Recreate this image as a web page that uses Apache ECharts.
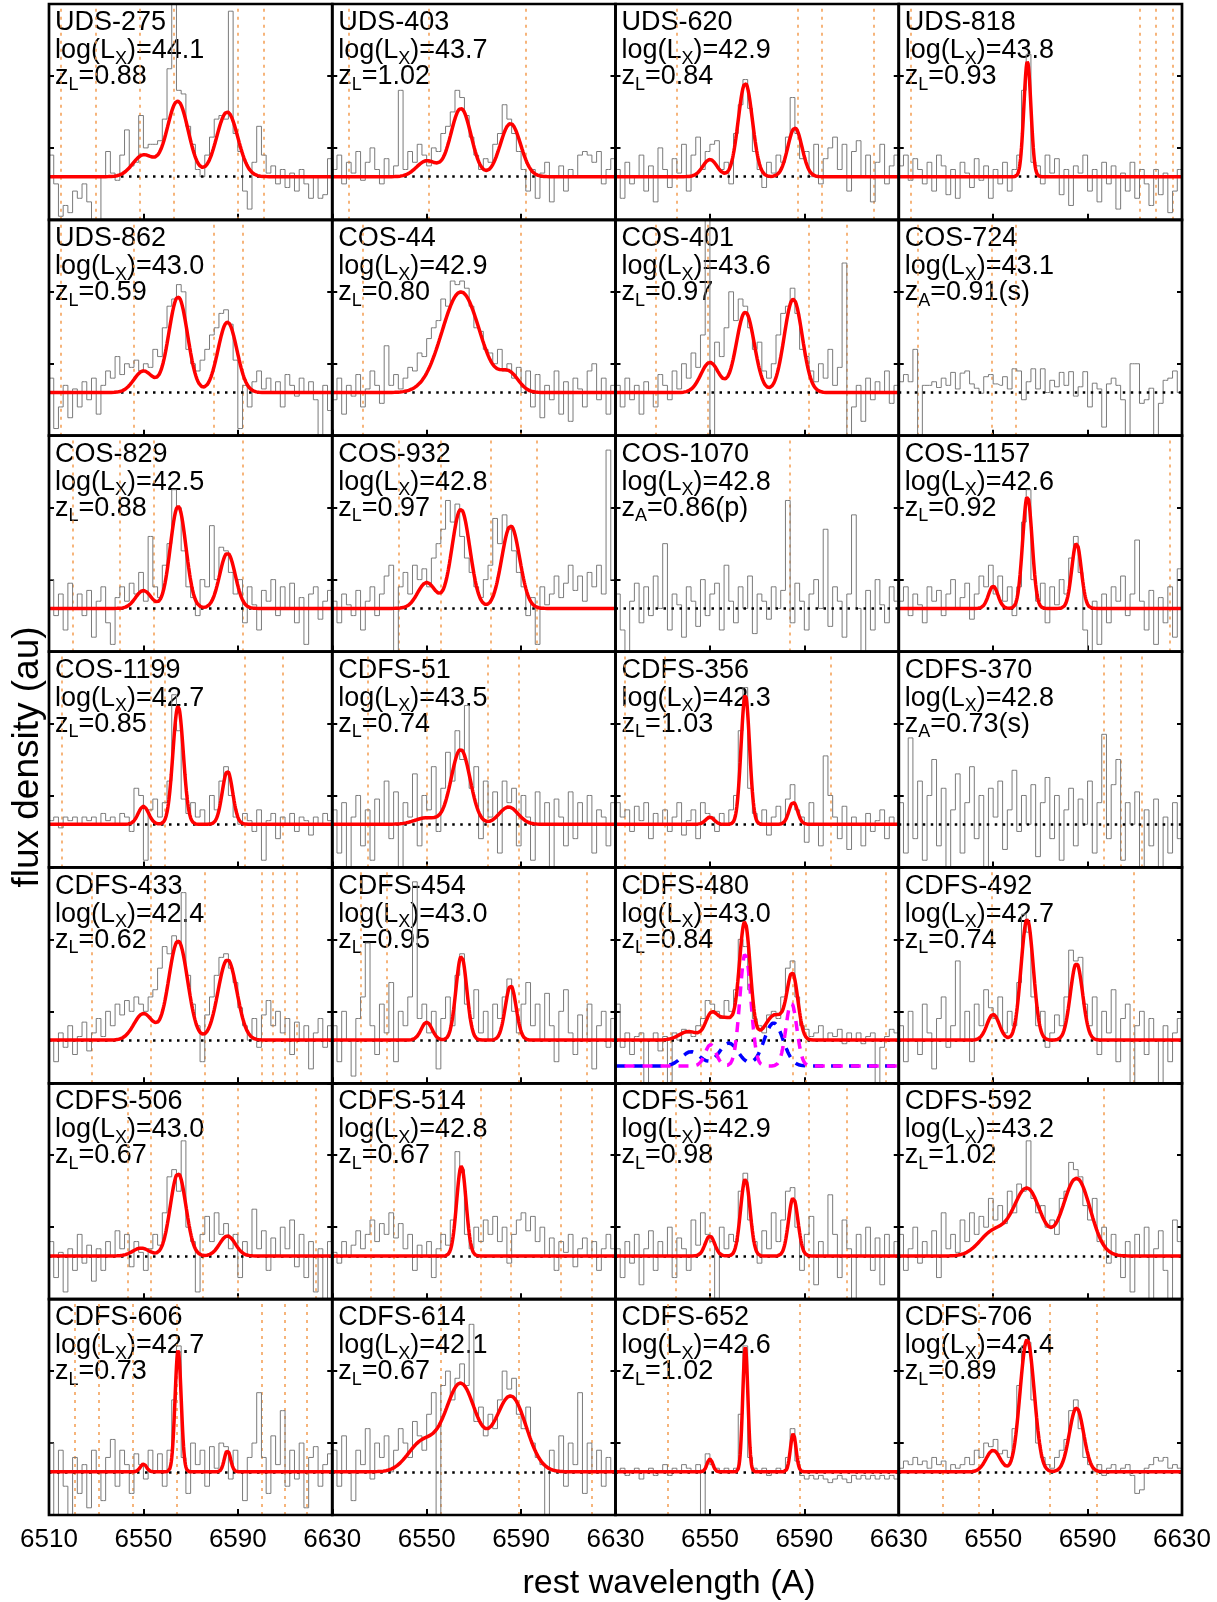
<!DOCTYPE html>
<html>
<head>
<meta charset="utf-8">
<script src="https://cdn.jsdelivr.net/npm/echarts@6/dist/echarts.min.js"></script>
<style>
  html, body { margin: 0; padding: 0; background: #ffffff; }
  #chart { width: 1217px; height: 1602px; }
</style>
</head>
<body>
<div id="chart"></div>
<script>
// Rest-frame wavelength window shown in every panel (Angstrom)
const LAMBDA_MIN = 6510;
const LAMBDA_MAX = 6630;
const xTickStep = 40;          // ticks at 6510, 6550, 6590, 6630
const binStart = 6511;         // centre of first spectral bin
const binWidth = 2;            // bin width (Angstrom)

// Panel labels, row by row
const sourceNames = [
  'UDS-275', 'UDS-403', 'UDS-620', 'UDS-818',
  'UDS-862', 'COS-44', 'COS-401', 'COS-724',
  'COS-829', 'COS-932', 'COS-1070', 'COS-1157',
  'COS-1199', 'CDFS-51', 'CDFS-356', 'CDFS-370',
  'CDFS-433', 'CDFS-454', 'CDFS-480', 'CDFS-492',
  'CDFS-506', 'CDFS-514', 'CDFS-561', 'CDFS-592',
  'CDFS-606', 'CDFS-614', 'CDFS-652', 'CDFS-706'
];
const logLx = [
  '44.1', '43.7', '42.9', '43.8',
  '43.0', '42.9', '43.6', '43.1',
  '42.5', '42.8', '42.8', '42.6',
  '42.7', '43.5', '42.3', '42.8',
  '42.4', '43.0', '43.0', '42.7',
  '43.0', '42.8', '42.9', '43.2',
  '42.7', '42.1', '42.6', '42.4'
];
// redshift type: L = from emission lines, A = archival
const zType = [
  'L', 'L', 'L', 'L',
  'L', 'L', 'L', 'A',
  'L', 'L', 'A', 'L',
  'L', 'L', 'L', 'A',
  'L', 'L', 'L', 'L',
  'L', 'L', 'L', 'L',
  'L', 'L', 'L', 'L'
];
const zValue = [
  '0.88', '1.02', '0.84', '0.93',
  '0.59', '0.80', '0.97', '0.91(s)',
  '0.88', '0.97', '0.86(p)', '0.92',
  '0.85', '0.74', '1.03', '0.73(s)',
  '0.62', '0.95', '0.84', '0.74',
  '0.67', '0.67', '0.98', '1.02',
  '0.73', '0.67', '1.02', '0.89'
];

// Observed spectra (arbitrary flux units, continuum subtracted), 2 A bins from 6511 A
const flux_UDS_275 = [0.3,-0.1,-0.55,-0.4,-0.5,-0.2,-0.3,-0.1,-0.35,-0.6, -0.6,0.0,0.35,0.05,-0.05,0.3,0.65,0.15,0.2,0.85, 0.4,0.45,0.45,0.5,0.8,1.5,2.6,1.2,1.15,0.7, 0.45,0.1,0.0,0.3,0.55,0.8,0.85,0.8,2.3,0.6, 0.35,-0.2,-0.45,0.2,0.7,0.3,0.05,0.15,-0.1,0.1, -0.15,0.05,-0.2,0.1,-0.1,-0.3,0.0,-0.3,-0.25,0.25];
const flux_UDS_403 = [0.1,0.3,-0.1,0.2,0.05,0.35,-0.05,0.2,0.4,0.1, -0.1,0.25,0.0,0.15,1.2,0.1,0.35,0.2,0.45,0.3, 0.15,0.4,0.35,0.6,0.7,0.9,1.2,1.1,0.85,0.55, 0.3,0.1,0.25,0.2,0.45,0.6,1.0,0.8,0.6,0.35, 0.1,-0.2,0.1,-0.3,0.05,0.2,-0.35,0.0,0.15,-0.2, 0.1,0.0,0.3,0.35,0.3,0.2,0.35,-0.1,0.1,0.25];
const flux_UDS_620 = [0.1,-0.3,0.2,-0.1,0.0,0.3,-0.2,0.15,-0.35,0.4, 0.1,-0.15,0.25,0.05,0.45,-0.2,0.3,0.55,0.1,0.35, 0.45,0.5,0.1,0.2,-0.1,0.6,1.0,1.35,0.95,0.35, 0.1,-0.15,0.2,0.05,0.3,0.2,0.55,1.1,0.6,0.25, 0.35,0.0,0.45,-0.1,0.25,0.4,0.55,0.1,0.45,-0.2, 0.35,0.5,0.0,0.3,-0.35,0.2,0.45,-0.1,0.15,0.3];
const flux_UDS_818 = [0.15,0.3,-0.05,0.25,0.1,-0.1,0.2,-0.2,0.3,0.15, -0.25,0.1,-0.3,0.2,0.05,-0.15,0.25,-0.05,0.15,-0.3, 0.1,-0.1,0.2,-0.2,0.1,0.3,1.2,1.7,0.2,0.15, -0.1,0.3,0.05,0.25,-0.25,0.1,-0.4,0.15,0.05,0.3, -0.2,0.1,-0.35,0.2,-0.1,0.15,-0.45,0.05,-0.2,0.2, -0.3,0.1,-0.1,-0.4,0.1,-0.25,0.05,-0.5,-0.2,0.1];
const flux_UDS_862 = [0.2,-0.5,-0.2,0.1,-0.35,0.05,-0.2,0.15,-0.1,0.2, -0.3,0.1,0.3,0.2,0.5,0.25,0.4,0.35,0.45,0.3, 0.4,0.35,0.6,0.5,0.9,1.2,1.3,1.5,1.4,0.6, 0.4,0.3,0.45,0.6,0.8,0.9,1.1,1.15,0.95,0.45, -0.5,0.1,-0.2,0.15,0.3,0.05,0.2,0.0,0.15,-0.2, 0.25,0.1,-0.05,0.2,0.0,0.15,-0.1,-0.6,0.1,-0.25];
const flux_COS_44 = [-0.1,0.2,-0.3,0.1,-0.05,0.25,-0.2,0.05,0.3,0.1, -0.15,0.65,0.1,0.25,0.05,0.2,0.35,0.3,0.55,0.5, 0.75,0.9,1.0,1.3,1.2,1.55,1.5,1.55,1.45,1.2, 0.9,0.85,0.6,0.55,0.4,0.6,0.3,0.4,0.2,0.35, 0.0,0.3,-0.2,0.25,-0.35,0.1,-0.1,0.3,-0.3,0.15, -0.4,0.2,0.05,-0.2,0.3,0.4,-0.1,0.2,-0.3,0.1];
const flux_COS_401 = [0.1,-0.2,0.2,-0.1,0.1,-0.3,0.15,0.0,-0.2,0.25, 0.1,-0.1,0.3,0.05,0.4,0.2,0.55,0.35,0.8,2.6, -0.6,0.7,0.5,0.9,1.4,1.0,1.3,1.2,0.9,0.6, 0.7,0.3,0.2,0.4,0.8,1.1,1.2,1.45,1.1,0.6, 0.5,0.3,0.15,0.4,0.2,0.6,0.1,0.35,1.8,-0.6, -0.2,0.1,-0.4,0.2,-0.1,0.15,0.0,0.3,-0.15,0.1];
const flux_COS_724 = [0.15,0.25,0.15,0.6,-0.6,0.1,0.1,0.15,0.07,0.2, 0.1,0.28,0.05,0.27,0.3,0.12,0.06,-0.01,0.22,0.25, 0.12,0.1,0.22,0.05,0.33,0.3,-0.1,0.15,0.33,0.05, 0.33,0.0,0.17,0.08,0.28,0.1,0.29,-0.05,0.08,0.29, -0.2,0.13,0.05,-0.48,0.12,0.2,0.1,-0.1,-0.6,0.4, 0.4,-0.15,-0.1,0.06,-0.6,-0.15,0.17,0.2,0.3,0.0];
const flux_COS_829 = [0.4,-0.1,0.2,-0.3,0.35,0.0,0.2,-0.1,0.25,-0.4, 0.1,0.3,-0.2,-0.5,0.15,0.3,0.1,0.35,0.2,0.5, 0.1,1.0,0.3,0.15,0.6,0.9,1.65,1.4,0.8,0.3, 0.15,-0.1,0.4,0.3,1.15,0.4,0.85,0.8,0.5,0.2, 0.4,-0.2,0.3,0.05,-0.3,0.25,0.1,0.4,-0.1,0.3, 0.0,0.35,-0.2,0.15,-0.5,0.2,0.3,-0.15,0.1,0.25];
const flux_COS_932 = [0.1,-0.2,0.2,0.05,-0.1,0.25,-0.3,0.1,0.3,-0.1, 0.2,0.45,0.6,-0.6,0.3,0.5,0.2,0.6,0.4,0.55, 0.3,0.7,0.9,1.1,1.5,1.2,1.45,1.0,0.7,0.5, 0.3,0.15,0.4,0.6,1.25,0.9,1.3,1.1,0.8,0.5, 0.3,-0.1,0.15,-0.5,0.3,0.05,0.2,0.45,0.15,0.35, 0.6,0.25,0.45,0.1,0.5,0.3,0.6,0.2,2.2,0.4];
const flux_COS_1070 = [0.2,-0.3,-0.6,0.1,0.35,-0.2,0.3,-0.1,0.45,0.0, 0.9,-0.3,0.2,0.05,-0.4,0.3,0.1,-0.25,0.4,-0.1, 0.2,0.35,-0.3,0.6,0.1,-0.2,0.3,0.0,0.45,-0.35, 0.2,0.1,-0.15,0.3,0.0,0.25,1.5,-0.2,0.35,0.1, -0.3,0.2,0.4,0.0,1.1,-0.25,0.3,0.1,-0.4,0.2, 1.3,0.0,-0.6,0.25,-0.3,0.4,0.05,-0.2,0.3,0.1];
const flux_COS_1157 = [0.1,0.3,-0.1,0.2,0.05,-0.2,0.3,0.1,0.25,-0.1, 0.2,0.4,0.0,0.15,0.35,-0.15,0.2,0.45,0.3,0.6, 0.2,0.45,0.1,0.3,-0.1,0.3,1.2,1.65,0.4,0.1, 0.35,-0.2,0.3,0.05,0.4,0.2,0.7,1.0,0.5,-0.3, -0.6,0.1,-0.5,0.2,-0.2,0.3,0.1,0.45,-0.1,0.2, 0.95,0.1,-0.3,0.25,-0.5,0.15,-0.2,0.3,-0.4,0.55];
const flux_COS_1199 = [0.05,0.1,-0.05,0.1,0.05,0.1,0.0,0.1,0.05,0.1, 0.0,0.15,0.05,0.1,0.0,0.15,0.1,-0.1,0.5,0.4, -0.5,0.2,0.35,0.1,0.3,0.6,1.8,1.3,0.35,0.15, 0.3,0.1,0.2,0.0,0.4,0.2,0.6,0.8,0.4,0.1, 0.0,0.15,0.05,-0.1,0.2,-0.5,0.05,0.15,-0.2,0.1, 0.0,0.15,-0.1,0.1,0.05,-0.15,0.1,0.0,0.15,0.05];
const flux_CDFS_51 = [0.2,-0.4,0.3,-0.6,0.1,0.4,-0.3,0.2,-0.5,0.35, 0.0,0.6,-0.2,0.45,-0.6,0.3,0.1,0.7,-0.3,0.4, 0.2,0.8,-0.1,0.5,1.0,0.6,1.3,0.9,1.65,0.5, 0.8,-0.2,0.6,0.1,0.45,-0.4,0.6,0.3,0.5,-0.3, 0.4,0.1,-0.5,0.45,0.0,0.3,-0.6,0.35,0.1,-0.3, 0.45,-0.2,0.3,0.0,0.4,-0.4,0.2,0.1,-0.3,0.3];
const flux_CDFS_356 = [0.3,0.1,0.2,-0.1,0.25,0.05,0.3,-0.2,0.15,0.0, 0.2,-0.1,0.1,0.3,-0.15,0.05,0.2,-0.2,0.3,0.15, 0.1,-0.1,0.15,0.0,0.2,0.4,1.3,1.9,0.5,0.15, 0.0,0.2,-0.15,0.1,0.25,0.0,0.35,0.55,0.2,0.1, -0.25,0.3,0.0,-0.3,0.95,0.4,0.1,-0.2,0.25,-0.35, 0.1,0.0,-0.3,0.15,-0.1,0.05,0.2,-0.2,0.1,0.0];
const flux_CDFS_370 = [0.3,-0.4,1.2,-0.2,0.6,-0.5,0.4,0.9,-0.3,0.5, -0.6,0.2,0.7,-0.4,0.3,0.8,-0.2,0.4,-0.6,0.5, 0.1,0.6,-0.35,0.2,0.75,-0.1,0.4,0.0,0.55,-0.45, 0.3,0.65,-0.2,0.4,-0.5,0.2,0.5,-0.3,0.35,0.0, 0.6,-0.4,0.3,1.25,-0.2,0.55,0.9,-0.5,0.3,0.0, 0.45,-0.6,0.2,-0.3,0.35,-0.6,0.1,-0.4,0.3,-0.2];
const flux_CDFS_433 = [0.0,-0.3,0.1,-0.1,0.2,-0.2,0.05,0.25,-0.15,0.1, 0.3,0.05,0.4,0.2,0.5,0.35,0.55,0.4,0.6,0.5, 0.4,0.6,0.7,1.0,1.3,1.2,1.45,1.35,2.05,0.9, 0.5,0.2,-0.3,0.35,0.6,0.9,1.15,1.2,1.0,0.8, 0.45,0.2,0.0,0.3,-0.1,0.35,0.55,0.2,0.4,0.1, 0.3,-0.2,0.25,0.0,0.2,-0.4,0.1,0.3,-0.1,0.2];
const flux_CDFS_454 = [0.2,-0.3,0.4,0.0,-0.5,0.3,0.6,1.35,0.2,-0.2, 0.5,0.1,0.8,-0.3,0.4,0.2,0.6,2.2,0.3,0.5, 0.1,0.4,-0.4,0.3,0.6,0.2,0.9,1.2,0.5,0.3, 0.7,0.1,0.4,0.0,0.5,0.3,0.6,0.85,0.4,0.1, 0.5,0.8,0.2,0.5,0.0,0.65,0.2,-0.3,0.4,0.7, 0.1,-0.2,0.35,0.0,0.5,-0.4,0.2,0.4,-0.1,0.3];
const flux_CDFS_480 = [0.5,-0.1,0.1,-0.2,0.05,0.1,-0.6,0.0,0.1,-0.15, 0.05,-0.6,0.1,0.0,0.15,0.1,0.05,0.2,0.3,0.55, 0.5,0.4,0.3,0.55,0.4,0.7,1.4,1.3,0.7,0.3, 0.2,0.1,0.35,0.4,0.3,0.6,1.0,1.1,0.6,0.2, 0.15,0.05,0.1,0.2,0.0,0.1,0.05,0.15,-0.05,0.1, 0.0,0.1,-0.05,0.05,0.1,-0.6,-0.1,0.05,0.15,0.1];
const flux_CDFS_492 = [0.2,-0.3,0.4,0.0,-0.2,0.5,0.1,-0.4,0.3,0.6, -0.1,0.2,1.1,0.0,0.4,-0.3,0.5,0.2,0.7,0.45, 0.3,0.6,0.1,0.4,0.2,0.8,1.75,1.5,0.6,0.2, 0.4,-0.1,0.1,0.35,0.2,0.6,1.25,1.1,1.15,0.5, 0.2,0.6,-0.2,0.4,0.1,0.7,-0.3,0.3,0.5,-0.6, 0.2,0.4,-0.2,0.3,0.0,-0.6,0.2,-0.3,0.1,0.3];
const flux_CDFS_506 = [0.2,-0.3,0.05,-0.5,0.1,-0.2,0.3,-0.1,0.15,-0.35, 0.1,-0.2,0.2,0.0,0.35,0.1,0.3,-0.15,0.2,0.05, -0.2,0.1,0.3,0.15,0.6,1.1,1.2,0.9,1.6,0.4, 0.2,-0.5,0.3,0.55,0.2,0.6,0.3,0.45,0.1,0.3, -0.3,0.2,0.0,0.65,0.1,0.35,-0.2,0.25,0.0,0.4, 0.1,0.5,-0.15,0.3,-0.3,0.2,-0.5,0.1,-0.6,0.2];
const flux_CDFS_514 = [0.05,-0.1,0.2,0.0,0.15,0.35,0.1,0.3,0.5,0.2, 0.45,0.3,0.6,0.25,0.45,0.1,0.3,-0.2,0.15,0.0, 0.2,-0.3,0.1,0.3,0.15,0.5,1.45,1.2,0.3,0.1, 0.4,0.2,0.5,0.3,0.55,0.2,0.4,-0.1,0.3,0.5, 0.6,0.35,0.55,0.2,0.4,0.0,0.25,-0.2,0.2,0.05, 0.3,-0.15,0.1,0.25,0.0,0.2,-0.2,0.1,0.3,0.1];
const flux_CDFS_561 = [0.1,-0.3,0.2,-0.1,0.3,-0.4,0.1,0.35,-0.2,0.2, 0.0,0.4,-0.3,0.25,0.1,-0.2,0.5,0.15,0.6,0.3, 0.2,-0.6,0.4,0.1,0.3,0.2,0.9,1.15,0.5,0.2, -0.1,0.35,0.1,0.6,0.2,0.5,0.9,0.95,0.4,-0.2, 0.3,0.55,-0.4,0.2,0.0,0.85,0.3,-0.3,0.5,0.1, -0.6,0.3,0.0,0.4,-0.2,0.25,-0.4,0.3,0.0,0.2];
const flux_CDFS_592 = [0.3,-0.2,0.1,0.4,-0.1,0.2,0.0,0.35,-0.3,0.6, 0.1,0.3,0.05,0.5,0.2,0.6,0.3,0.55,0.4,0.8, 0.5,0.7,0.45,0.9,0.6,1.0,0.9,1.6,0.8,0.6, 0.7,0.4,0.5,0.3,0.8,0.9,1.3,1.2,1.1,0.7, 0.5,0.8,0.2,0.4,-0.1,0.3,0.0,-0.3,0.2,-0.5, 0.3,0.0,0.4,-0.6,0.1,0.35,-0.2,-0.6,0.5,0.2];
const flux_CDFS_606 = [0.4,-0.6,0.3,-0.2,-0.6,0.2,-0.3,0.1,-0.5,0.3, 0.0,-0.4,0.2,0.45,-0.2,0.3,0.1,-0.3,0.25,0.1, -0.1,0.3,0.0,0.25,-0.2,0.3,1.0,1.75,0.2,-0.3, 0.4,0.1,0.3,-0.2,0.35,0.05,0.4,0.35,-0.1,0.3, 0.0,-0.4,0.2,0.4,1.1,0.2,-0.3,0.5,0.1,0.85, -0.2,0.3,-0.1,0.4,-0.5,0.2,0.35,-0.2,0.1,0.25];
const flux_CDFS_614 = [0.3,-0.2,0.5,0.0,-0.4,0.3,0.1,0.6,-0.1,0.4, 0.2,0.5,0.0,0.3,0.6,0.4,0.2,0.7,0.5,0.3, 0.8,1.1,-0.6,1.2,1.4,1.0,1.3,1.5,1.2,2.05, 0.7,0.9,0.5,0.8,0.6,1.0,1.4,1.15,1.3,0.8, 0.6,0.9,0.4,0.2,0.1,-0.6,0.3,0.0,0.5,-0.2, 0.4,0.1,1.1,-0.3,0.4,0.0,0.3,-0.2,0.2,0.0];
const flux_CDFS_652 = [0.0,0.05,-0.05,0.0,0.05,-0.1,0.0,0.05,-0.05,0.0, 0.1,-0.05,0.05,0.0,0.1,0.05,0.0,0.1,-0.6,0.25, 0.1,0.05,0.0,0.05,0.0,0.05,0.8,1.75,0.2,0.05, 0.0,0.05,-0.05,0.0,0.05,0.0,0.2,0.6,0.15,-0.05, -0.1,-0.05,-0.1,-0.05,-0.1,-0.15,-0.1,-0.05,-0.1,-0.15, -0.05,-0.1,-0.05,-0.1,-0.05,-0.1,-0.05,-0.1,-0.05,-0.1];
const flux_CDFS_706 = [0.05,0.15,0.1,0.2,0.1,0.15,0.05,0.2,0.1,0.15, 0.0,0.1,0.05,0.1,0.2,0.1,0.3,0.2,0.4,0.35, 0.45,0.25,0.3,0.2,0.6,1.2,1.75,1.8,1.0,0.4, 0.2,0.1,0.05,0.2,0.3,0.45,0.85,1.0,0.6,0.2, 0.1,0.0,0.1,-0.05,0.05,0.1,0.0,0.05,0.1,-0.05, -0.3,-0.25,0.05,0.1,0.2,0.15,0.2,0.05,0.1,0.05];

// Gaussian fit components: [amplitude, centre (A), sigma (A)]
const fit_UDS_275 = [[0.3, 6550, 4.5], [1.05, 6564.5, 4.5], [0.9, 6585.5, 4.5]];
const fit_UDS_403 = [[0.22, 6550, 4.3], [0.95, 6564.5, 4.3], [0.74, 6585.5, 4.3]];
const fit_UDS_620 = [[0.24, 6550, 3], [1.3, 6565, 3], [0.68, 6586, 3]];
const fit_UDS_818 = [[1.6, 6564.5, 1.5]];
const fit_UDS_862 = [[0.3, 6550, 4], [1.33, 6564.7, 4], [0.98, 6585.6, 4]];
const fit_COS_44 = [[1.4, 6564.5, 8], [0.25, 6585, 4]];
const fit_COS_401 = [[0.42, 6550, 3.8], [1.12, 6565, 3.8], [1.3, 6585.3, 3.8]];
const fit_COS_724 = [];
const fit_COS_829 = [[0.25, 6550, 3.3], [1.42, 6564.7, 3.3], [0.77, 6585.6, 3.3]];
const fit_COS_932 = [[0.36, 6550, 3.8], [1.38, 6564.5, 3.8], [1.15, 6585.6, 3.8]];
const fit_COS_1070 = [];
const fit_COS_1157 = [[0.31, 6550, 2], [1.56, 6564.5, 2], [0.91, 6585.3, 2]];
const fit_COS_1199 = [[0.25, 6550, 2.2], [1.64, 6564.7, 2.2], [0.74, 6585.6, 2.2]];
const fit_CDFS_51 = [[0.09, 6550, 5], [1.04, 6564.4, 4], [0.24, 6584.7, 4]];
const fit_CDFS_356 = [[0.1, 6550, 1.8], [1.8, 6565, 1.8], [0.31, 6585.3, 1.8]];
const fit_CDFS_370 = [];
const fit_CDFS_433 = [[0.37, 6550, 4], [1.38, 6564.7, 4], [1.12, 6585.6, 4]];
const fit_CDFS_454 = [[0.25, 6550, 2.3], [1.17, 6564.7, 2.3], [0.76, 6585.6, 2.3]];
const fit_CDFS_480 = [[0.12, 6541, 4], [0.33, 6550.5, 2.5], [0.3, 6557, 3.5], [1.62, 6564.8, 2.3], [0.35, 6577.5, 4], [0.88, 6585, 2.3]];
const fit_CDFS_492 = [[0.36, 6550, 2.6], [1.68, 6564.4, 2.6], [1.07, 6585.3, 2.6]];
const fit_CDFS_506 = [[0.11, 6549, 3.5], [1.15, 6564.7, 3.3], [0.28, 6585.6, 3.3]];
const fit_CDFS_514 = [[1.25, 6564.7, 2]];
const fit_CDFS_561 = [[0.28, 6550, 2], [1.07, 6565, 2], [0.81, 6585.3, 2]];
const fit_CDFS_592 = [[0.33, 6550, 5.8], [0.93, 6564.4, 5.8], [1.08, 6585.3, 5.8]];
const fit_CDFS_606 = [[0.11, 6550, 1.3], [1.69, 6564.7, 1.3], [0.3, 6585.6, 1.3]];
const fit_CDFS_614 = [[0.4, 6548, 6], [1.22, 6564.4, 6.5], [1.05, 6585.6, 6.5]];
const fit_CDFS_652 = [[0.18, 6550, 1.2], [1.73, 6565, 1.1], [0.53, 6585.3, 1.2]];
const fit_CDFS_706 = [[0.3, 6550, 3], [1.84, 6564.4, 3], [0.89, 6585.3, 3]];

// CDFS-480 decomposition (drawn shifted below the zero level)
const cdfs480Narrow = [[0.3, 6550.3, 2.3], [1.57, 6565, 2.3], [0.88, 6584.5, 2.3]];
const cdfs480Broad = [[0.2, 6542, 4], [0.32, 6558, 4], [0.6, 6577, 4]];
const cdfs480Offset = -0.36;

// Sky-line positions (rest frame, A)
const sky_UDS_275 = [6515, 6530, 6548.5, 6563, 6590, 6601];
const sky_UDS_403 = [6517, 6551, 6592];
const sky_UDS_620 = [6536, 6587, 6597.5, 6619.5];
const sky_UDS_818 = [6515, 6612, 6619, 6626];
const sky_UDS_862 = [6515, 6546, 6580, 6592];
const sky_COS_44 = [6523, 6590];
const sky_COS_401 = [6527, 6549, 6592, 6608];
const sky_COS_724 = [6518, 6549.3, 6559.5];
const sky_COS_829 = [6520, 6540, 6554.5, 6592];
const sky_COS_932 = [6538, 6556, 6577, 6596.5];
const sky_COS_1070 = [6584];
const sky_COS_1157 = [6625];
const sky_COS_1199 = [6515.5, 6553, 6559, 6593, 6609];
const sky_CDFS_51 = [6525, 6550, 6576, 6589];
const sky_CDFS_356 = [6514, 6531, 6601];
const sky_CDFS_370 = [6597, 6604, 6613];
const sky_CDFS_433 = [6528, 6553, 6576, 6600, 6605, 6610, 6615];
const sky_CDFS_454 = [6522, 6533, 6589, 6618];
const sky_CDFS_480 = [6520.5, 6530, 6533.5, 6546, 6550.5, 6585, 6590.5, 6624.5];
const sky_CDFS_492 = [6549.5, 6609.5];
const sky_CDFS_506 = [6543.5, 6553, 6575, 6590, 6623];
const sky_CDFS_514 = [6526.5, 6536, 6556, 6573, 6585.5, 6607, 6620];
const sky_CDFS_561 = [6535.5, 6550, 6592, 6608];
const sky_CDFS_592 = [6550, 6597];
const sky_CDFS_606 = [6521, 6531, 6545.5, 6564, 6600, 6610, 6619];
const sky_CDFS_614 = [6556, 6589, 6620];
const sky_CDFS_652 = [6532, 6588];
const sky_CDFS_706 = [6528.5, 6544, 6574, 6594];

const spectra = [
  flux_UDS_275, flux_UDS_403, flux_UDS_620, flux_UDS_818,
  flux_UDS_862, flux_COS_44, flux_COS_401, flux_COS_724,
  flux_COS_829, flux_COS_932, flux_COS_1070, flux_COS_1157,
  flux_COS_1199, flux_CDFS_51, flux_CDFS_356, flux_CDFS_370,
  flux_CDFS_433, flux_CDFS_454, flux_CDFS_480, flux_CDFS_492,
  flux_CDFS_506, flux_CDFS_514, flux_CDFS_561, flux_CDFS_592,
  flux_CDFS_606, flux_CDFS_614, flux_CDFS_652, flux_CDFS_706
];
const fits = [
  fit_UDS_275, fit_UDS_403, fit_UDS_620, fit_UDS_818,
  fit_UDS_862, fit_COS_44, fit_COS_401, fit_COS_724,
  fit_COS_829, fit_COS_932, fit_COS_1070, fit_COS_1157,
  fit_COS_1199, fit_CDFS_51, fit_CDFS_356, fit_CDFS_370,
  fit_CDFS_433, fit_CDFS_454, fit_CDFS_480, fit_CDFS_492,
  fit_CDFS_506, fit_CDFS_514, fit_CDFS_561, fit_CDFS_592,
  fit_CDFS_606, fit_CDFS_614, fit_CDFS_652, fit_CDFS_706
];
const skyLines = [
  sky_UDS_275, sky_UDS_403, sky_UDS_620, sky_UDS_818,
  sky_UDS_862, sky_COS_44, sky_COS_401, sky_COS_724,
  sky_COS_829, sky_COS_932, sky_COS_1070, sky_COS_1157,
  sky_COS_1199, sky_CDFS_51, sky_CDFS_356, sky_CDFS_370,
  sky_CDFS_433, sky_CDFS_454, sky_CDFS_480, sky_CDFS_492,
  sky_CDFS_506, sky_CDFS_514, sky_CDFS_561, sky_CDFS_592,
  sky_CDFS_606, sky_CDFS_614, sky_CDFS_652, sky_CDFS_706
];

// ---- layout ----
const FONT = '"Liberation Sans", Arial, Helvetica, sans-serif';
const NCOL = 4, NROW = 7;
const GRID_LEFT = 49, GRID_TOP = 4, GRID_RIGHT = 1182, GRID_BOTTOM = 1515;
const CELL_W = (GRID_RIGHT - GRID_LEFT) / NCOL;
const CELL_H = (GRID_BOTTOM - GRID_TOP) / NROW;
const Y_MIN = -0.6, Y_MAX = 2.4;
const LABEL_SIZE = 27, SUB_SIZE = 18;

const measureCtx = document.createElement('canvas').getContext('2d');
function textWidth(str, size) {
  measureCtx.font = size + 'px ' + FONT;
  return measureCtx.measureText(str).width;
}

// text runs: [string, isSubscript]
function pushRuns(list, runs, x, baseline) {
  let cx = x;
  runs.forEach(([str, sub]) => {
    const size = sub ? SUB_SIZE : LABEL_SIZE;
    const b = sub ? baseline + 5 : baseline;
    list.push({
      type: 'text', z: 0, silent: true,
      style: {
        text: str, x: cx, y: b - 0.3465 * size,
        font: size + 'px ' + FONT, fill: '#000',
        textAlign: 'left', align: 'left',
        textVerticalAlign: 'middle', verticalAlign: 'middle'
      }
    });
    cx += textWidth(str, size);
  });
}

function gaussSum(comps, lam) {
  let s = 0;
  comps.forEach(([a, c, w]) => { s += a * Math.exp(-((lam - c) * (lam - c)) / (2 * w * w)); });
  return s;
}
function modelCurve(comps, offset) {
  const pts = [];
  for (let k = 0; k <= 600; k++) {
    const lam = LAMBDA_MIN + k * 0.2;
    pts.push([lam - LAMBDA_MIN, offset + gaussSum(comps, lam)]);
  }
  return pts;
}

const grids = [], xAxes = [], yAxes = [], series = [], graphics = [];

sourceNames.forEach((name, i) => {
  const col = i % NCOL, row = Math.floor(i / NCOL);
  const left = GRID_LEFT + col * CELL_W;
  const top = GRID_TOP + row * CELL_H;
  grids.push({ left, top, width: CELL_W, height: CELL_H, show: false, containLabel: false, outerBoundsMode: 'none' });

  xAxes.push({
    type: 'value', gridIndex: i, min: 0, max: LAMBDA_MAX - LAMBDA_MIN, interval: xTickStep,
    axisLine: { show: false, onZero: false },
    splitLine: { show: false },
    axisTick: { show: true, inside: true, length: 6, lineStyle: { color: '#000', width: 2 } },
    axisLabel: {
      show: row === NROW - 1,
      formatter: v => (v === 0 && col > 0) ? '' : String(v + LAMBDA_MIN),
      fontSize: 26, fontFamily: FONT, color: '#000', margin: 12
    }
  });
  // data axis
  yAxes.push({ type: 'value', gridIndex: i, min: Y_MIN, max: Y_MAX, show: false, axisLine: { onZero: false } });
  // tick frames on both sides
  ['left', 'right'].forEach(pos => {
    yAxes.push({
      type: 'value', gridIndex: i, min: 0, max: 3, interval: 1, position: pos,
      axisLine: { show: false, onZero: false },
      axisLabel: { show: false }, splitLine: { show: false },
      axisTick: { show: true, inside: true, length: 5, lineStyle: { color: '#000', width: 2 } }
    });
  });
  const yi = 3 * i;

  series.push({
    type: 'lines', coordinateSystem: 'cartesian2d', xAxisIndex: i, yAxisIndex: yi,
    z: 1, silent: true, polyline: false,
    lineStyle: { color: '#f4a25a', width: 1.6, type: [3, 5], opacity: 1 },
    data: skyLines[i].map(w => ({ coords: [[w - LAMBDA_MIN, Y_MIN], [w - LAMBDA_MIN, Y_MAX]] }))
  });

  const f = spectra[i];
  const specData = [[0, f[0]]];
  f.forEach((v, k) => specData.push([binStart - LAMBDA_MIN + k * binWidth, v]));
  specData.push([LAMBDA_MAX - LAMBDA_MIN, f[f.length - 1]]);
  series.push({
    type: 'line', xAxisIndex: i, yAxisIndex: yi, step: 'middle', symbol: 'none',
    z: 2, silent: true, clip: true,
    lineStyle: { color: '#7a7a7a', width: 1 },
    data: specData
  });

  series.push({
    type: 'lines', coordinateSystem: 'cartesian2d', xAxisIndex: i, yAxisIndex: yi,
    z: 3, silent: true,
    lineStyle: { color: '#000', width: 2.5, type: [2.5, 5.5], opacity: 1 },
    data: [{ coords: [[0, 0], [LAMBDA_MAX - LAMBDA_MIN, 0]] }]
  });

  if (name === 'CDFS-480') {
    series.push({
      type: 'line', xAxisIndex: i, yAxisIndex: yi, symbol: 'none', z: 4, silent: true, clip: true,
      lineStyle: { color: '#0000ff', width: 3.5, type: [10, 8] },
      data: modelCurve(cdfs480Broad, cdfs480Offset)
    });
    series.push({
      type: 'line', xAxisIndex: i, yAxisIndex: yi, symbol: 'none', z: 4, silent: true, clip: true,
      lineStyle: { color: '#ff00ff', width: 3.5, type: [10, 8], dashOffset: 9 },
      data: modelCurve(cdfs480Narrow, cdfs480Offset)
    });
  }
  if (fits[i].length) {
    series.push({
      type: 'line', xAxisIndex: i, yAxisIndex: yi, symbol: 'none', z: 5, silent: true, clip: true,
      lineStyle: { color: '#ff0000', width: 3.5 },
      data: modelCurve(fits[i], 0)
    });
  }

  // panel annotations
  const tx = left + 6;
  pushRuns(graphics, [[name, false]], tx, top + 28);
  pushRuns(graphics, [['log(L', false], ['X', true], [')=' + logLx[i], false]], tx, top + 56);
  pushRuns(graphics, [['z', false], [zType[i], true], ['=' + zValue[i], false]], tx, top + 82);

  graphics.push({
    type: 'rect', z: 100, silent: true,
    shape: { x: left, y: top, width: CELL_W, height: CELL_H },
    style: { fill: 'none', stroke: '#000', lineWidth: 2.7 }
  });
});

// axis titles
graphics.push({
  type: 'text', z: 0, silent: true,
  style: { text: 'rest wavelength (A)', x: 669, y: 1584, font: '34px ' + FONT, fill: '#000',
           textAlign: 'center', align: 'center', textVerticalAlign: 'middle', verticalAlign: 'middle' }
});
graphics.push({
  type: 'text', z: 0, silent: true, x: 28, y: 757, rotation: Math.PI / 2,
  style: { text: 'flux density (au)', x: 0, y: 0, font: '37px ' + FONT, fill: '#000',
           textAlign: 'center', align: 'center', textVerticalAlign: 'middle', verticalAlign: 'middle' }
});

const chart = echarts.init(document.getElementById('chart'), null, { renderer: 'canvas' });
chart.setOption({
  backgroundColor: '#ffffff',
  animation: false,
  grid: grids,
  xAxis: xAxes,
  yAxis: yAxes,
  series: series,
  graphic: { elements: graphics }
});
</script>
</body>
</html>
